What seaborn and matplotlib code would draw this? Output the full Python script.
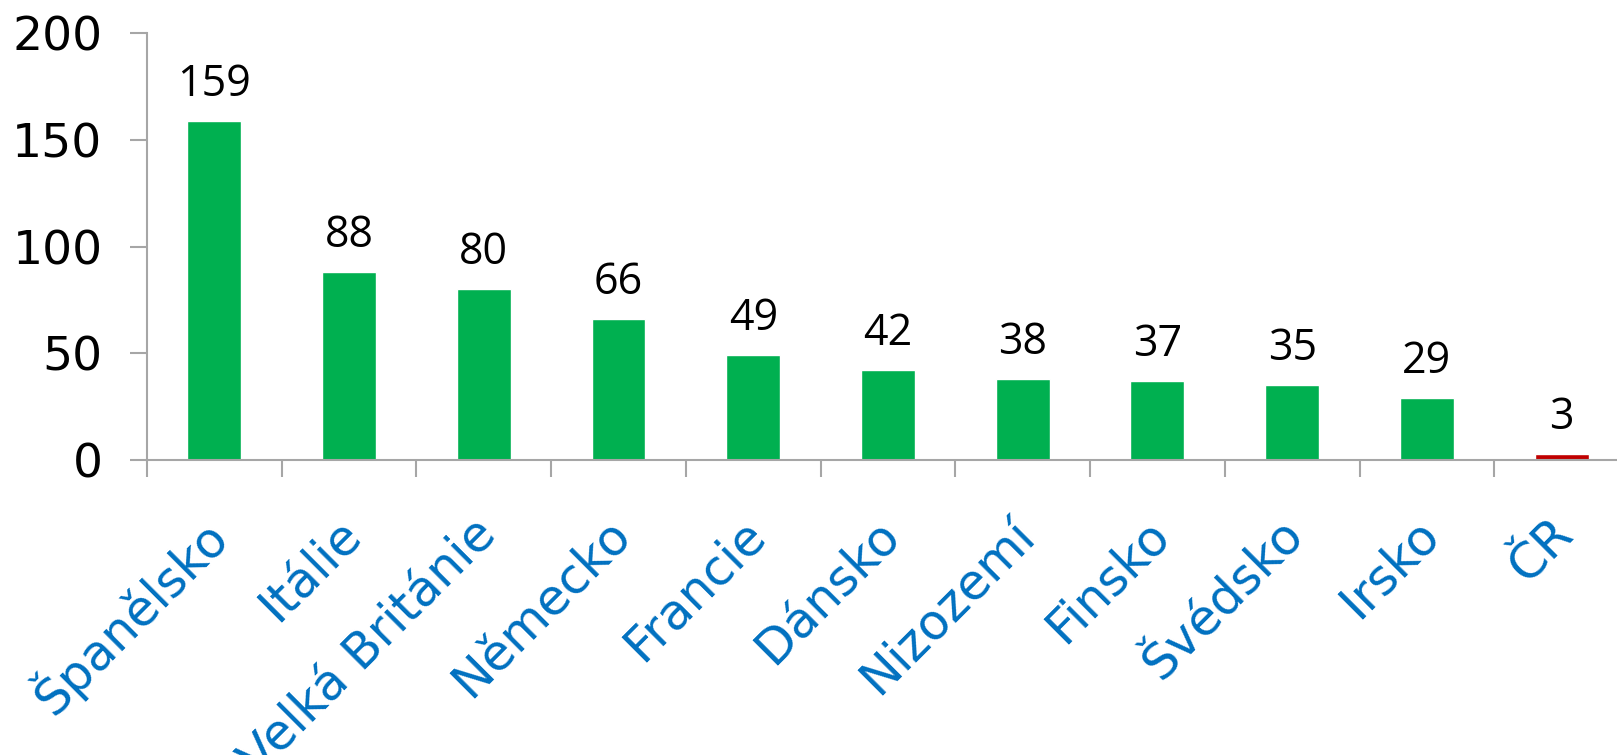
import matplotlib
matplotlib.use("Agg")
import matplotlib.pyplot as plt
import matplotlib.transforms as mtransforms
import seaborn as sns
import pandas as pd

# data
countries = ["Španělsko", "Itálie", "Velká Británie", "Německo", "Francie",
             "Dánsko", "Nizozemí", "Finsko", "Švédsko", "Irsko", "ČR"]
values = [159, 88, 80, 66, 49, 42, 38, 37, 35, 29, 3]
yticks = [0, 50, 100, 150, 200]

green = "#00B050"
red = "#C00000"
grey = "#A6A6A6"
palette = [red if c == "ČR" else green for c in countries]

sns.set_style("white")
plt.rcParams['font.family'] = ['DejaVu Sans']

df = pd.DataFrame({"country": countries, "value": values})

fig = plt.figure(figsize=(16.17, 7.55), dpi=100)
ax = fig.add_axes([0.0909, 0.3907, 0.9165, 0.5656])

sns.barplot(data=df, x="country", y="value", hue="country", palette=palette,
            legend=False, width=0.4, saturation=1, ax=ax)

ax.set_xlim(-0.5, len(countries) - 0.5)
ax.set_ylim(0, 200)
ax.set_yticks(yticks)
ax.set_xlabel("")
ax.set_ylabel("")

for s in ["top", "right"]:
    ax.spines[s].set_visible(False)
for s in ["left", "bottom"]:
    ax.spines[s].set_color(grey)
    ax.spines[s].set_linewidth(1.5)

ax.tick_params(axis="y", direction="out", length=12, width=1.5, color=grey,
               pad=20, labelsize=34, labelcolor="black", left=True)
# category boundaries get the tick marks, centres carry the labels
ax.set_xticks([i - 0.5 for i in range(len(countries) + 1)], minor=True)
ax.tick_params(axis="x", which="minor", direction="out", length=12, width=1.5,
               color=grey, bottom=True)
ax.tick_params(axis="x", which="major", length=0, pad=48, labelsize=35.5,
               labelcolor="#0070C0")

shift = mtransforms.ScaledTranslation(4 / 100, 0, fig.dpi_scale_trans)
for lab in ax.get_xticklabels():
    lab.set_rotation(45)
    lab.set_ha("right")
    lab.set_va("center")
    lab.set_rotation_mode("anchor")
    lab.set_transform(lab.get_transform() + shift)

for i, v in enumerate(values):
    ax.annotate(str(v), (i, v), xytext=(0, 18), textcoords="offset points",
                ha="center", va="baseline", fontsize=31, family="Open Sans",
                color="black")

fig.savefig("out.png", dpi=100)
